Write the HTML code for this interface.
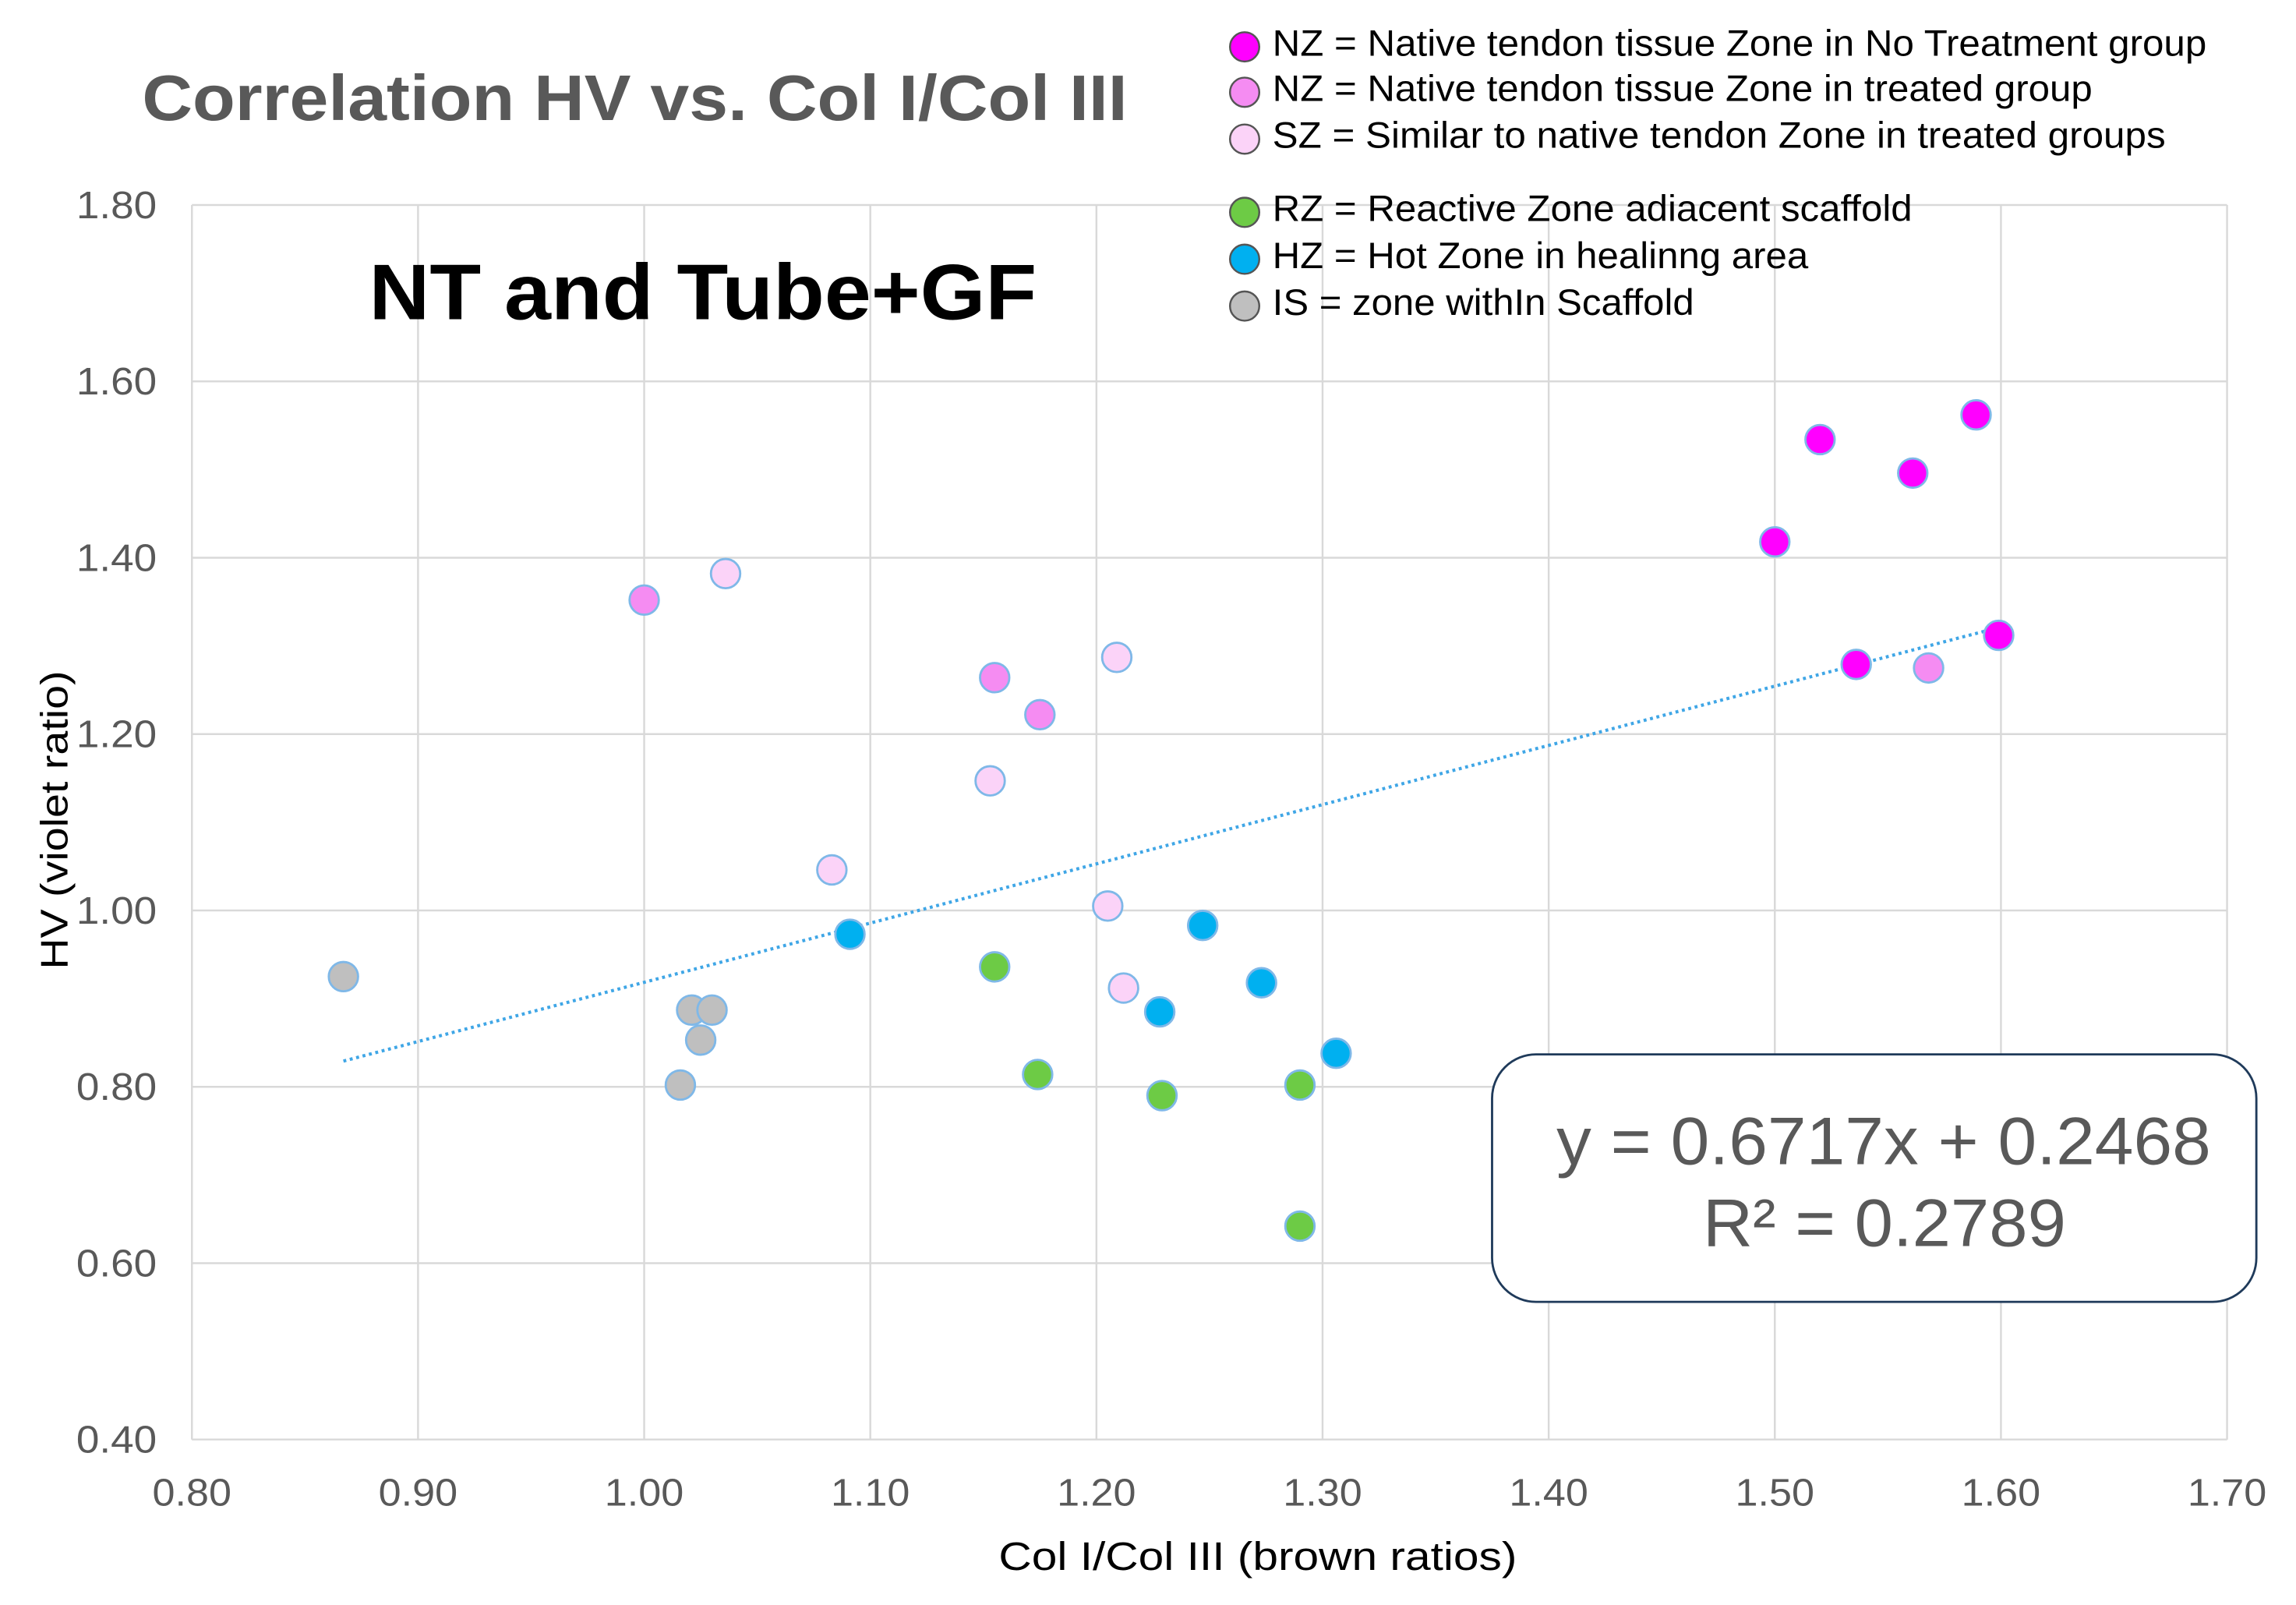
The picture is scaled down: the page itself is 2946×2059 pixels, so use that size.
<!DOCTYPE html>
<html><head><meta charset="utf-8"><style>html,body{margin:0;padding:0;background:#fff}svg{display:block}text{font-family:"Liberation Sans",sans-serif}</style></head>
<body>
<svg id="chart" width="2946" height="2059" viewBox="0 0 1568 1096" xmlns="http://www.w3.org/2000/svg">
<rect width="1568" height="1096" fill="#fff"/>
<g id="grid"></g><g id="ticks"></g><g id="trend"></g><g id="points"></g>
<text x="97" y="82" font-size="44" font-weight="bold" fill="#595959" textLength="673" lengthAdjust="spacingAndGlyphs">Correlation HV vs. Col I/Col III</text>
<text x="252" y="218" font-size="54" font-weight="bold" fill="#000" textLength="456" lengthAdjust="spacingAndGlyphs">NT and Tube+GF</text>
<text transform="translate(46,560) rotate(-90)" text-anchor="middle" font-size="26" fill="#000" textLength="204" lengthAdjust="spacingAndGlyphs">HV (violet ratio)</text>
<text x="682" y="1072" font-size="27" fill="#000" textLength="354" lengthAdjust="spacingAndGlyphs">Col I/Col III (brown ratios)</text>
<g id="legend"></g>
<g>
<rect x="1019" y="720" width="522" height="169" rx="30" fill="#fff" stroke="#1f3a5a" stroke-width="1.5"/>
<text x="1063" y="795" font-size="46" fill="#595959" textLength="447" lengthAdjust="spacingAndGlyphs">y = 0.6717x + 0.2468</text>
<text x="1163" y="851" font-size="46" fill="#595959" textLength="248" lengthAdjust="spacingAndGlyphs">R² = 0.2789</text>
</g>
</svg>
<script>
const xTicks=[0.80,0.90,1.00,1.10,1.20,1.30,1.40,1.50,1.60,1.70];
const yTicks=[0.40,0.60,0.80,1.00,1.20,1.40,1.60,1.80];
const ntX=[1.500,1.520,1.561,1.589,1.599,1.536];
const ntY=[1.418,1.534,1.496,1.562,1.312,1.279];
const nzX=[1.000,1.155,1.175,1.568];
const nzY=[1.352,1.264,1.222,1.275];
const szX=[1.036,1.209,1.153,1.083,1.205,1.212];
const szY=[1.382,1.287,1.147,1.046,1.005,0.912];
const hzX=[1.091,1.247,1.273,1.228,1.306];
const hzY=[0.973,0.983,0.918,0.885,0.838];
const rzX=[1.155,1.174,1.229,1.290,1.290];
const rzY=[0.936,0.814,0.790,0.802,0.642];
const isX=[0.867,1.021,1.030,1.025,1.016];
const isY=[0.925,0.887,0.887,0.853,0.802];
const slope=0.6717, intercept=0.2468, trendStart=0.867, trendEnd=1.60;
const legendLabels=["NZ = Native tendon tissue Zone in No Treatment group","NZ = Native tendon tissue Zone in treated group","SZ = Similar to native tendon Zone in treated groups","RZ = Reactive Zone adiacent scaffold","HZ = Hot Zone in healinng area","IS = zone withIn Scaffold"];
const legendWidths=[638,560,610,437,366,288];

const NS="http://www.w3.org/2000/svg";
const X0=131,X1=1521,Y0=983,Y1=140;
const sx=v=>X0+(v-0.8)/(1.7-0.8)*(X1-X0);
const sy=v=>Y0-(v-0.4)/(1.8-0.4)*(Y0-Y1);
function mk(t,a,p){const e=document.createElementNS(NS,t);for(const k in a)e.setAttribute(k,a[k]);p.appendChild(e);return e;}
const grid=document.getElementById('grid'),ticks=document.getElementById('ticks');
xTicks.forEach(v=>{const l=mk('line',{x1:sx(v),x2:sx(v),y1:Y1,y2:Y0,stroke:'#d9d9d9','stroke-width':1.3},grid);

const t=mk('text',{x:sx(v),y:1028,'text-anchor':'middle','font-size':26,fill:'#595959',textLength:54,lengthAdjust:'spacingAndGlyphs'},ticks);t.textContent=v.toFixed(2);
});
yTicks.forEach(v=>{const l=mk('line',{x1:X0,x2:X1,y1:sy(v),y2:sy(v),stroke:'#d9d9d9','stroke-width':1.3},grid);

const t=mk('text',{x:107,y:sy(v)+9,'text-anchor':'end','font-size':26,fill:'#595959',textLength:55,lengthAdjust:'spacingAndGlyphs'},ticks);t.textContent=v.toFixed(2);
});
const tr=mk('line',{x1:sx(trendStart),y1:sy(slope*trendStart+intercept),x2:sx(trendEnd),y2:sy(slope*trendEnd+intercept),stroke:'#3fa6e6','stroke-width':2.2,'stroke-dasharray':'2 2.5'},document.getElementById('trend'));

const series=[[ntX,ntY,'#ff00ff','nt-point'],[nzX,nzY,'#f58cf2','nz-treated-point'],[szX,szY,'#fbd3f8','sz-point'],[rzX,rzY,'#6dcb45','rz-point'],[hzX,hzY,'#00b0f0','hz-point'],[isX,isY,'#bfbfbf','is-point']];
const pts=document.getElementById('points');
series.forEach(s=>{s[0].forEach((x,i)=>{const c=mk('circle',{cx:sx(x),cy:sy(s[1][i]),r:10,fill:s[2],stroke:'#7fb8e8','stroke-width':1.5},pts);
});});
const lg=document.getElementById('legend');const ly=[30,61,93,143,175,207];
legendLabels.forEach((lab,i)=>{const c=mk('circle',{cx:850,cy:ly[i]+2,r:10,fill:series[i][2],stroke:'#555','stroke-width':1.3},lg);

const t=mk('text',{x:869,y:ly[i]+8,'font-size':25,fill:'#000',textLength:legendWidths[i],lengthAdjust:'spacingAndGlyphs'},lg);t.textContent=lab;
});
</script>
</body></html>
